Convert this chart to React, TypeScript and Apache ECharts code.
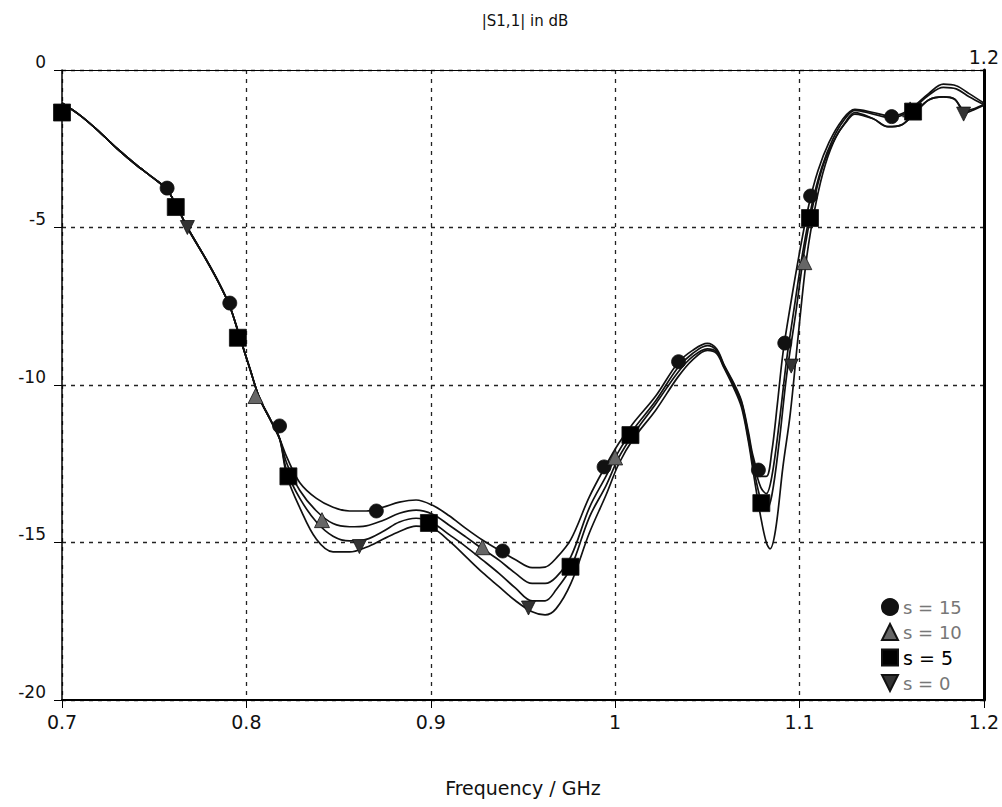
import React, { useEffect, useRef } from "react";
import * as echarts from "echarts";

// ---- data (frequency GHz, |S11| dB) ----
const commonStart: [number, number][] = [
  [0.7, -1.05], [0.71, -1.45], [0.72, -1.95], [0.73, -2.5], [0.74, -3.0], [0.75, -3.45],
  [0.757, -3.8], [0.762, -4.3], [0.768, -5.0], [0.778, -6.0], [0.785, -6.75], [0.791, -7.5],
  [0.796, -8.4], [0.802, -9.5], [0.807, -10.4], [0.813, -11.1], [0.818, -11.7],
];

const s15Tail: [number, number][] = [
  [0.822, -12.3], [0.829, -13.1], [0.838, -13.6], [0.847, -13.88], [0.856, -14.0], [0.865, -14.0],
  [0.874, -13.88], [0.883, -13.72], [0.892, -13.65], [0.901, -13.82], [0.91, -14.15], [0.919, -14.55],
  [0.928, -14.92], [0.937, -15.24], [0.946, -15.55], [0.955, -15.8], [0.962, -15.78], [0.968, -15.5],
  [0.976, -14.9], [0.986, -13.55], [0.995, -12.55], [1.002, -11.85], [1.01, -11.2], [1.022, -10.35],
  [1.034, -9.3], [1.042, -8.9], [1.05, -8.68], [1.055, -8.85], [1.059, -9.35], [1.064, -9.9],
  [1.0685, -10.5], [1.0723, -11.5], [1.075, -12.3], [1.079, -12.9], [1.082, -12.9], [1.085, -12.1],
  [1.088, -10.6], [1.091, -9.0], [1.095, -7.5], [1.1, -5.8], [1.105, -4.3], [1.11, -3.2],
  [1.116, -2.3], [1.123, -1.6], [1.13, -1.25], [1.14, -1.35], [1.148, -1.45], [1.155, -1.4],
  [1.162, -1.15], [1.17, -0.75], [1.178, -0.45], [1.185, -0.5], [1.192, -0.75], [1.2, -1.05],
];

const s10Tail: [number, number][] = [
  [0.822, -12.5], [0.829, -13.35], [0.838, -14.0], [0.847, -14.4], [0.856, -14.5], [0.865, -14.47],
  [0.874, -14.3], [0.883, -14.07], [0.892, -13.97], [0.901, -14.1], [0.91, -14.45], [0.919, -14.82],
  [0.928, -15.2], [0.937, -15.56], [0.946, -15.98], [0.955, -16.3], [0.962, -16.3], [0.968, -16.1],
  [0.976, -15.45], [0.986, -13.9], [0.995, -12.9], [1.002, -12.1], [1.01, -11.4], [1.022, -10.5],
  [1.034, -9.45], [1.042, -9.0], [1.05, -8.75], [1.055, -8.9], [1.059, -9.38], [1.064, -9.95],
  [1.0685, -10.55], [1.0723, -11.6], [1.075, -12.45], [1.079, -13.25], [1.082, -13.45], [1.085, -12.9],
  [1.089, -11.2], [1.093, -9.2], [1.097, -7.6], [1.102, -5.7], [1.107, -4.2], [1.112, -3.1],
  [1.118, -2.2], [1.124, -1.6], [1.13, -1.28], [1.14, -1.4], [1.148, -1.5], [1.155, -1.45],
  [1.162, -1.2], [1.17, -0.8], [1.178, -0.55], [1.185, -0.6], [1.192, -0.85], [1.2, -1.1],
];

const s5Tail: [number, number][] = [
  [0.822, -12.75], [0.829, -13.6], [0.838, -14.35], [0.847, -14.8], [0.856, -14.95], [0.865, -14.9],
  [0.874, -14.65], [0.883, -14.35], [0.892, -14.23], [0.901, -14.38], [0.91, -14.75], [0.919, -15.13],
  [0.928, -15.55], [0.937, -15.98], [0.946, -16.45], [0.955, -16.85], [0.962, -16.85], [0.968, -16.5],
  [0.976, -15.8], [0.986, -14.2], [0.995, -13.2], [1.002, -12.3], [1.01, -11.55], [1.022, -10.6],
  [1.034, -9.6], [1.042, -9.1], [1.05, -8.85], [1.055, -8.95], [1.059, -9.42], [1.064, -10.0],
  [1.0685, -10.6], [1.0723, -11.7], [1.075, -12.6], [1.079, -13.65], [1.082, -13.95], [1.085, -13.5],
  [1.089, -11.8], [1.093, -9.7], [1.098, -7.7], [1.103, -5.6], [1.108, -4.1], [1.113, -3.0],
  [1.119, -2.2], [1.125, -1.65], [1.13, -1.35], [1.14, -1.55], [1.148, -1.8], [1.155, -1.75],
  [1.162, -1.4], [1.17, -0.95], [1.178, -0.85], [1.184, -0.92], [1.19, -1.3], [1.195, -1.22], [1.2, -1.1],
];

const s0Tail: [number, number][] = [
  [0.822, -12.9], [0.829, -13.9], [0.838, -14.9], [0.847, -15.3], [0.856, -15.3], [0.865, -15.15],
  [0.874, -14.9], [0.883, -14.65], [0.892, -14.48], [0.901, -14.55], [0.91, -14.95], [0.919, -15.45],
  [0.928, -15.95], [0.937, -16.4], [0.946, -16.85], [0.955, -17.2], [0.962, -17.3], [0.968, -17.1],
  [0.976, -16.3], [0.986, -14.7], [0.995, -13.5], [1.002, -12.5], [1.01, -11.7], [1.022, -10.8],
  [1.034, -9.75], [1.042, -9.2], [1.05, -8.9], [1.055, -9.0], [1.059, -9.45], [1.064, -10.05],
  [1.0685, -10.7], [1.0723, -11.8], [1.075, -12.8], [1.079, -14.2], [1.082, -15.0], [1.084, -15.2],
  [1.087, -14.6], [1.091, -12.6], [1.095, -10.9], [1.099, -8.6], [1.104, -5.9], [1.109, -4.2],
  [1.114, -3.0], [1.12, -2.1], [1.126, -1.6], [1.13, -1.4], [1.14, -1.55], [1.148, -1.8],
  [1.155, -1.75], [1.162, -1.4], [1.17, -0.95], [1.178, -0.85], [1.184, -0.92], [1.19, -1.35],
  [1.195, -1.25], [1.2, -1.12],
];

// marker positions
const s15Marks: [number, number][] = [
  [0.757, -3.75], [0.791, -7.4], [0.818, -11.3], [0.8705, -14.0], [0.939, -15.27], [0.994, -12.6],
  [1.0344, -9.26], [1.0777, -12.7], [1.092, -8.67], [1.106, -4.0], [1.15, -1.48],
];
const s10Marks: [number, number][] = [
  [0.805, -10.35], [0.841, -14.29], [0.928, -15.15], [1.0, -12.3], [1.1026, -6.1], [1.16, -1.25],
];
const s5Marks: [number, number][] = [
  [0.7, -1.35], [0.7617, -4.35], [0.7954, -8.5], [0.8228, -12.9], [0.899, -14.38], [0.9758, -15.77],
  [1.0083, -11.59], [1.0793, -13.75], [1.1057, -4.7], [1.1616, -1.32],
];
const s0Marks: [number, number][] = [
  [0.768, -5.0], [0.8613, -15.13], [0.953, -17.08], [1.0955, -9.4], [1.189, -1.4],
];

const seriesNames = ["s = 15", "s = 10", "s = 5", "s = 0"];
const xTicks = { min: 0.7, max: 1.2, interval: 0.1 };
const yTicks = { min: -20, max: 0, interval: 5 };

const FONT = "DejaVu Sans";
const INV_TRI = "path://M0,0 L20,0 L10,20 Z";

export default function App() {
  const ref = useRef<HTMLDivElement>(null);
  useEffect(() => {
    if (!ref.current) return;
    const chart = echarts.init(ref.current, undefined, { renderer: "svg" });
    const lines = [s15Tail, s10Tail, s5Tail, s0Tail].map((tail, i) => ({
      type: "line",
      name: "line" + i,
      data: commonStart.concat(tail),
      smooth: 0.35,
      showSymbol: false,
      symbol: "none",
      lineStyle: { color: "#111", width: 1.7 },
      z: 2,
    }));
    const marks = [
      { name: seriesNames[0], data: s15Marks, symbol: "circle", symbolSize: 14, color: "#111" },
      { name: seriesNames[1], data: s10Marks, symbol: "triangle", symbolSize: 15, color: "#666" },
      { name: seriesNames[2], data: s5Marks, symbol: "rect", symbolSize: 17, color: "#000" },
      { name: seriesNames[3], data: s0Marks, symbol: INV_TRI, symbolSize: 14, color: "#333" },
    ].map((m) => ({
      type: "scatter",
      name: m.name,
      data: m.data,
      symbol: m.symbol,
      symbolSize: m.symbolSize,
      itemStyle: { color: m.color, borderColor: "#111", borderWidth: 0.8, opacity: 1 },
      z: 3,
    }));

    chart.setOption({
      animation: false,
      backgroundColor: "#fff",
      title: {
        text: "|S1,1| in dB",
        left: 520,
        top: 8,
        textAlign: "center",
        textStyle: { fontFamily: FONT, fontSize: 15, fontWeight: "normal", color: "#111" },
      },
      grid: { left: 62, right: 16, top: 70, bottom: 107 },
      legend: {
        orient: "vertical",
        left: 876,
        top: 593,
        itemWidth: 16,
        itemHeight: 16,
        itemGap: 7,
        textStyle: { fontFamily: FONT, fontSize: 18, color: "#777" },
        data: [
          { name: seriesNames[0], icon: "circle", itemStyle: { opacity: 1 } },
          { name: seriesNames[1], icon: "triangle", itemStyle: { opacity: 1 } },
          { name: seriesNames[2], icon: "rect", itemStyle: { opacity: 1 }, textStyle: { color: "#000", fontSize: 19 } },
          { name: seriesNames[3], icon: INV_TRI, itemStyle: { opacity: 1 } },
        ],
      },
      xAxis: [
        {
          type: "value",
          position: "bottom",
          ...xTicks,
          name: "Frequency / GHz",
          nameLocation: "middle",
          nameGap: 78,
          nameTextStyle: { fontFamily: FONT, fontSize: 19, color: "#111" },
          axisLine: { show: true, onZero: false, lineStyle: { color: "#000", width: 2 } },
          axisTick: { show: true, length: 8, lineStyle: { color: "#000", width: 1 } },
          axisLabel: {
            fontFamily: FONT,
            fontSize: 19,
            color: "#111",
            margin: 12,
            formatter: (v: number) => String(Math.round(v * 10) / 10),
          },
          splitLine: { show: true, lineStyle: { color: "#222", width: 1.3, type: [4, 5] } },
        },
        {
          type: "value",
          position: "top",
          ...xTicks,
          axisLine: { show: true, onZero: false, lineStyle: { color: "#000", width: 1 } },
          axisTick: { show: false },
          axisLabel: {
            fontFamily: FONT,
            fontSize: 19,
            color: "#111",
            margin: 4,
            formatter: (v: number) => (Math.abs(v - 1.2) < 1e-6 ? "1.2" : ""),
          },
          splitLine: { show: false },
        },
      ],
      yAxis: [
        {
          type: "value",
          position: "left",
          ...yTicks,
          axisLine: { show: true, onZero: false, lineStyle: { color: "#000", width: 1.5 } },
          axisTick: { show: true, length: 8, lineStyle: { color: "#000", width: 1 } },
          axisLabel: {
            fontFamily: FONT,
            fontSize: 17,
            color: "#111",
            margin: 16,
            verticalAlign: "bottom",
          },
          splitLine: { show: true, lineStyle: { color: "#222", width: 1.3, type: [4, 5] } },
        },
        {
          type: "value",
          position: "right",
          ...yTicks,
          axisLine: { show: true, onZero: false, lineStyle: { color: "#000", width: 3 } },
          axisTick: { show: false },
          axisLabel: { show: false },
          splitLine: { show: false },
        },
      ],
      series: [...lines, ...marks],
    });
    return () => chart.dispose();
  }, []);
  return (
    <div
      ref={ref}
      style={{ position: "fixed", left: 0, top: 0, width: 1002, height: 807, background: "#fff" }}
    />
  );
}
